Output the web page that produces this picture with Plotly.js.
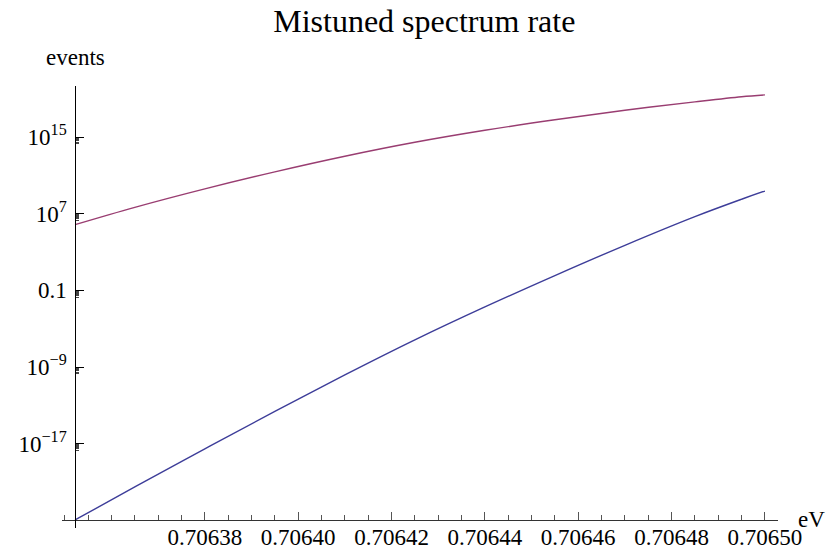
<!DOCTYPE html>
<html>
<head>
<meta charset="utf-8">
<script src="https://cdn.plot.ly/plotly-3.0.1.min.js"></script>
<style>html,body{margin:0;padding:0;background:#fff;}#chart{width:830px;height:556px;}</style>
</head>
<body>
<div id="chart"></div>
<script>
// Data
const energy = [0.7063522, 0.706365, 0.70638, 0.706395, 0.70641, 0.706425, 0.70644, 0.706455, 0.70647, 0.706485, 0.706495, 0.7065];
const rateLow = [1.12e-25, 3.1e-22, 2.9e-18, 2.4e-14, 1.5e-10, 6.8e-7, 1.86e-3, 3.5, 5.0e3, 4.9e6, 3.2e8, 2.3e9];
const rateHigh = [7.2e5, 4.6e7, 3.9e9, 2.3e11, 9.8e12, 2.8e14, 5.0e15, 6.3e16, 6.2e17, 4.6e18, 1.58e19, 2.45e19];

const xTickVals = [0.70638, 0.70640, 0.70642, 0.70644, 0.70646, 0.70648, 0.70650];
const xTickText = ['0.70638', '0.70640', '0.70642', '0.70644', '0.70646', '0.70648', '0.70650'];
const yTickVals = [1e-17, 1e-9, 0.1, 1e7, 1e15];
const yTickText = ['10<sup>\u221217</sup>', '10<sup>\u22129</sup>', '0.1', '10<sup>7</sup>', '10<sup>15</sup>'];

const titleText = 'Mistuned spectrum rate';
const xLabel = 'eV';
const yLabel = 'events';

// minor y ticks: k * 10^(n-1) below each labelled decade
const yMinor = [];
yTickVals.forEach(v => { for (let k = 2; k <= 9; k++) yMinor.push(k * v / 10); });

const serif = '"Liberation Serif", "Times New Roman", Times, serif';

const traces = [
  {x: energy, y: rateLow, type: 'scatter', mode: 'lines', line: {color: 'rgb(61,61,153)', width: 1.4, shape: 'spline', smoothing: 1}, hoverinfo: 'skip'},
  {x: energy, y: rateHigh, type: 'scatter', mode: 'lines', line: {color: 'rgb(153,61,113)', width: 1.4, shape: 'spline', smoothing: 1}, hoverinfo: 'skip'}
];

const layout = {
  width: 830, height: 556,
  margin: {l: 62, r: 52, t: 86, b: 28, pad: 0},
  paper_bgcolor: '#fff', plot_bgcolor: '#fff',
  showlegend: false,
  font: {family: serif, size: 23, color: '#000'},
  title: {text: titleText, font: {family: serif, size: 32, color: '#000'}, x: 0.506, xanchor: 'center', xref: 'paper', y: 0.962, yanchor: 'middle', yref: 'container'},
  xaxis: {
    range: [0.7063494, 0.7065028],
    anchor: 'free', position: 0.0181,
    showgrid: false, zeroline: false,
    showline: true, linecolor: '#333', linewidth: 1,
    tickmode: 'array', tickvals: xTickVals, ticktext: xTickText,
    ticks: 'inside', ticklen: 8, tickwidth: 1, tickcolor: '#555',
    ticklabelstandoff: -4,
    tickfont: {family: serif, size: 23, color: '#000'},
    minor: {tick0: 0.70635, dtick: 0.000005, ticks: 'inside', ticklen: 5, tickwidth: 1, tickcolor: '#555', showgrid: false}
  },
  yaxis: {
    type: 'log',
    range: [-25.79, 20.32],
    anchor: 'free', position: 0.0186,
    showgrid: false, zeroline: false,
    showline: true, linecolor: '#000', linewidth: 1,
    tickmode: 'array', tickvals: yTickVals, ticktext: yTickText,
    ticks: 'inside', ticklen: 8, tickwidth: 1, tickcolor: '#000',
    ticklabelstandoff: 4,
    tickfont: {family: serif, size: 23, color: '#000'},
    minor: {tickmode: 'array', tickvals: yMinor, ticks: 'inside', ticklen: 3, tickwidth: 1, tickcolor: '#444', showgrid: false}
  },
  annotations: [
    {text: yLabel, xref: 'paper', yref: 'paper', x: 0.0186, y: 1.0, xanchor: 'center', yanchor: 'bottom', yshift: 14, showarrow: false, font: {family: serif, size: 23, color: '#000'}},
    {text: xLabel, xref: 'paper', yref: 'paper', x: 1.0, y: 0.0181, xanchor: 'left', yanchor: 'middle', xshift: 18, showarrow: false, font: {family: serif, size: 23, color: '#000'}}
  ]
};

Plotly.newPlot('chart', traces, layout, {displayModeBar: false, staticPlot: true});
</script>
</body>
</html>
